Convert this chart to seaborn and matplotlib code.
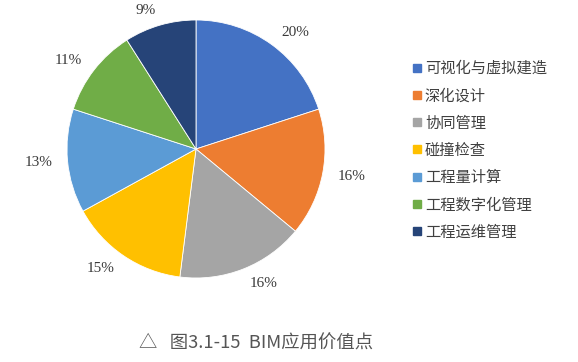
import matplotlib
matplotlib.use("Agg")
import matplotlib.pyplot as plt
import seaborn as sns
from matplotlib.lines import Line2D

categories = ["可视化与虚拟建造", "深化设计", "协同管理", "碰撞检查", "工程量计算", "工程数字化管理", "工程运维管理"]
values = [20, 16, 16, 15, 13, 11, 9]
colors = ["#4472C4", "#ED7D31", "#A5A5A5", "#FFC000", "#5B9BD5", "#70AD47", "#264478"]
caption = "△   图3.1-15  BIM应用价值点"

sns.set_theme(style="white")
plt.rcParams['font.family'] = ['Noto Sans CJK SC', 'DejaVu Sans']

W, H = 578, 362
fig = plt.figure(figsize=(W / 100, H / 100), dpi=100)
fig.patch.set_facecolor("white")

cx, cy, r = 196, 149, 129
ax = fig.add_axes([(cx - r) / W, (H - cy - r) / H, 2 * r / W, 2 * r / H])
ax.patch.set_alpha(0)
pct_labels = [f"{v}%" for v in values]
wedges, texts = ax.pie(
    values, colors=colors, startangle=90, counterclock=False,
    labels=pct_labels, labeldistance=1.12,
    wedgeprops=dict(linewidth=0.6, edgecolor="white"),
    textprops=dict(family=["Liberation Serif"], fontsize=11, color="#3a3a3a"))
ax.set_xlim(-1, 1)
ax.set_ylim(-1, 1)
ax.set_aspect("equal")
ax.axis("off")

handles = [Line2D([0], [0], marker="s", linestyle="", markersize=6,
                  markerfacecolor=c, markeredgecolor=c) for c in colors]
leg = fig.legend(handles, categories, loc="upper left",
                 bbox_to_anchor=(405 / W, 1 - 54 / H), frameon=False,
                 fontsize=11, handletextpad=0.1, labelspacing=0.67,
                 handlelength=0.8, borderaxespad=0)
for t in leg.get_texts():
    t.set_color("#404040")

fig.text(256 / W, 1 - 344 / H, caption, fontsize=13.2, color="#555555",
         ha="center", va="center")

fig.savefig("out.png", dpi=100, facecolor="white")
